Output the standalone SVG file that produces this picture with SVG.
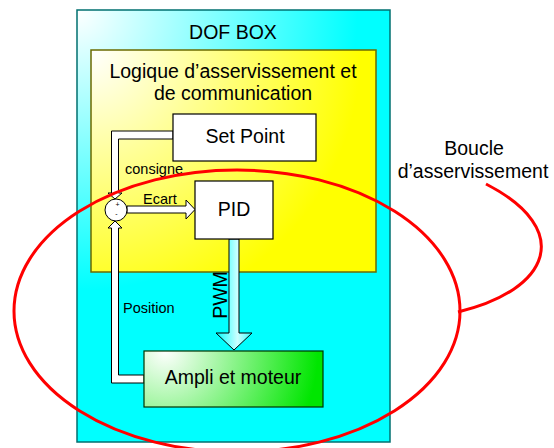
<svg xmlns="http://www.w3.org/2000/svg" width="554" height="448" viewBox="0 0 554 448">
  <style>
    .lbl { font-family: "Liberation Sans", Arial, sans-serif; fill: #000; }
    .big { font-size: 19.5px; }
    .small { font-size: 14.5px; }
    .tiny { font-size: 7px; }
    .hollow { fill: #fff; stroke: #000; stroke-width: 1; stroke-linejoin: miter; }
    .box { fill: #fff; stroke: #000; stroke-width: 1.2; }
    .loop { fill: none; stroke: #ff0000; stroke-width: 3; }
  </style>
  <defs>
    <radialGradient id="gCyan" gradientUnits="userSpaceOnUse" cx="77" cy="10" r="330">
      <stop offset="0" stop-color="#ffffff"/>
      <stop offset="0.85" stop-color="#00ffff"/>
      <stop offset="1" stop-color="#00ffff"/>
    </radialGradient>
    <radialGradient id="gYellow" gradientUnits="userSpaceOnUse" cx="91" cy="50" r="300">
      <stop offset="0" stop-color="#ffffff"/>
      <stop offset="0.9" stop-color="#ffff00"/>
      <stop offset="1" stop-color="#ffff00"/>
    </radialGradient>
    <radialGradient id="gGreen" gradientUnits="userSpaceOnUse" cx="165" cy="351" r="170">
      <stop offset="0" stop-color="#ffffff"/>
      <stop offset="0.9" stop-color="#00e600"/>
      <stop offset="1" stop-color="#00e600"/>
    </radialGradient>
    <linearGradient id="gPwm" x1="0" y1="0" x2="1" y2="0">
      <stop offset="0" stop-color="#00ffff"/>
      <stop offset="0.6" stop-color="#ccffff"/>
      <stop offset="1" stop-color="#33ffff"/>
    </linearGradient>
  </defs>

  <!-- outer enclosure -->
  <g id="dof-box">
    <rect x="77" y="10" width="313" height="432" fill="url(#gCyan)" stroke="#007070" stroke-width="1.5"/>
    <text class="lbl big" x="233" y="39" text-anchor="middle">DOF BOX</text>
  </g>

  <!-- control and communication logic -->
  <g id="logique">
    <rect x="91" y="50" width="285" height="222" fill="url(#gYellow)" stroke="#6b6b00" stroke-width="1.5"/>
    <text class="lbl big" x="233" y="78" text-anchor="middle">Logique d’asservissement et</text>
    <text class="lbl big" x="233" y="100" text-anchor="middle">de communication</text>
  </g>

  <!-- signal paths -->
  <g id="connectors">
    <path class="hollow" d="M173,131 L111.5,131 L111.5,193 L108,193 L115,199 L122,193 L118.5,193 L118.5,139 L173,139 Z"/>
    <path class="hollow" d="M144,383 L111.5,383 L111.5,228 L108,228 L115,221 L122,228 L118.5,228 L118.5,375 L144,375 Z"/>
    <path class="hollow" d="M127,206 L186,206 L186,200 L195,209.5 L186,219 L186,213 L127,213 Z"/>
    <path d="M229,239 L229,333 L216,333 L234,350 L252,333 L239,333 L239,239 Z" fill="url(#gPwm)" stroke="#000" stroke-width="1"/>
    <text class="lbl small" x="125" y="174">consigne</text>
    <text class="lbl small" x="143" y="204">Ecart</text>
    <text class="lbl small" x="123" y="313">Position</text>
    <text class="lbl big" x="0" y="0" text-anchor="middle" transform="translate(227,295) rotate(-90)">PWM</text>
  </g>

  <g id="set-point">
    <rect class="box" x="173" y="114" width="143" height="47"/>
    <text class="lbl big" x="245" y="143" text-anchor="middle">Set Point</text>
  </g>

  <g id="sommateur">
    <circle cx="116" cy="210" r="11" fill="#fff" stroke="#000" stroke-width="1"/>
    <text class="lbl tiny" x="117.5" y="207" text-anchor="middle">+</text>
    <text class="lbl tiny" x="116.5" y="216" text-anchor="middle">-</text>
  </g>

  <g id="pid">
    <rect class="box" x="195" y="181" width="78" height="58"/>
    <text class="lbl big" x="234" y="216" text-anchor="middle">PID</text>
  </g>

  <g id="ampli">
    <rect x="144" y="351" width="179" height="56" fill="url(#gGreen)" stroke="#003300" stroke-width="1.2"/>
    <text class="lbl big" x="233" y="384" text-anchor="middle">Ampli et moteur</text>
  </g>

  <!-- servo loop highlight with its callout -->
  <g id="boucle">
    <ellipse class="loop" cx="237" cy="311" rx="223" ry="141"/>
    <path class="loop" d="M458,312 C550,290 575,230 486,184"/>
    <text class="lbl big" x="474" y="155" text-anchor="middle">Boucle</text>
    <text class="lbl big" x="473" y="178" text-anchor="middle">d’asservissement</text>
  </g>
</svg>
